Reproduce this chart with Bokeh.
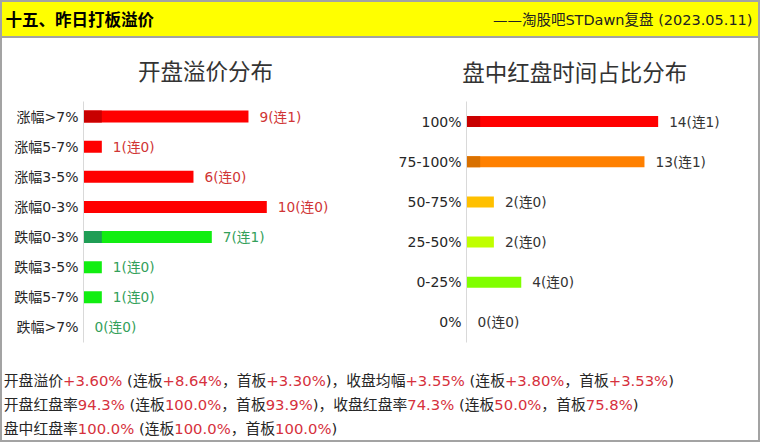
from bokeh.plotting import figure
from bokeh.models import FactorRange, Range1d, ColumnDataSource, Spacer
from bokeh.layouts import column, row
from bokeh.embed import file_html
from bokeh.resources import INLINE
from bokeh.core.properties import value

# ---------------- data ----------------
header_title = "十五、昨日打板溢价"
header_source = "——淘股吧STDawn复盘 (2023.05.11)"

open_title = "开盘溢价分布"
open_cats = ["涨幅>7%", "涨幅5-7%", "涨幅3-5%", "涨幅0-3%",
             "跌幅0-3%", "跌幅3-5%", "跌幅5-7%", "跌幅>7%"]
open_counts = [9, 1, 6, 10, 7, 1, 1, 0]
open_lianban = [1, 0, 0, 0, 1, 0, 0, 0]

red_title = "盘中红盘时间占比分布"
red_cats = ["100%", "75-100%", "50-75%", "25-50%", "0-25%", "0%"]
red_counts = [14, 13, 2, 2, 4, 0]
red_lianban = [1, 1, 0, 0, 0, 0]

open_premium = ["+3.60%", "+8.64%", "+3.30%"]
close_avg = ["+3.55%", "+3.80%", "+3.53%"]
open_red_rate = ["94.3%", "100.0%", "93.9%"]
close_red_rate = ["74.3%", "50.0%", "75.8%"]
intraday_red_rate = ["100.0%", "100.0%", "100.0%"]

# ---------------- styles ----------------
FONT = "DejaVu Sans, Noto Sans CJK SC"
W = 760
BORDER = 2
IW = W - 2 * BORDER            # inner width
HEAD_H, TITLE_H, CHART_H, FOOT_H = 38, 52, 270, 80
LW = RW = IW // 2
GREY = "#a3a3a3"
FRAME_TOP, FRAME_H = 11, 241

open_colors = ["#ff0000"] * 4 + ["#11ee11"] * 4
open_dark = ["#c80000"] * 4 + ["#1f9d55"] * 4
open_label_colors = ["#d03535"] * 4 + ["#33a05a"] * 4
red_colors = ["#ff0000", "#ff8000", "#ffc000", "#c0ff00", "#80ff00", "#80ff00"]
red_dark = ["#c80000", "#d87000", "#ffc000", "#c0ff00", "#80ff00", "#80ff00"]
red_label_colors = ["#333333"] * 6

BLACK, RED = "#262626", "#d6313d"

EM = {str(d): 0.636 for d in range(10)}
EM.update({".": 0.318, "%": 0.950, "+": 0.838, " ": 0.318, "(": 0.390,
           ")": 0.390, "-": 0.361, ">": 0.838})


def text_width(s, size):
    w = 0.0
    for ch in s:
        if ch in EM:
            w += EM[ch]
        elif ord(ch) > 0x2000:
            w += 1.0
        else:
            w += 0.6
    return w * size


def plain_fig(width, height, x0, y0, **kw):
    p = figure(width=width, height=height, x_range=Range1d(x0, x0 + width),
               y_range=Range1d(y0 + height, y0), x_axis_location=None,
               y_axis_location=None, toolbar_location=None, min_border=0,
               output_backend="svg", **kw)
    p.grid.visible = False
    return p


# ---------------- header ----------------
head = plain_fig(W, HEAD_H, 0, 0, background_fill_color="#ffff00",
                 border_fill_color="#ffff00", outline_line_color=GREY,
                 outline_line_width=3)
head.text(x=[5], y=[19.5], text=[header_title], text_baseline="middle",
          text_align="left", text_font=value(FONT), text_font_size="16.5px",
          text_font_style="bold", text_color="#000000")
head.text(x=[752], y=[19.5], text=[header_source], text_baseline="middle",
          text_align="right", text_font=value(FONT), text_font_size="14.5px",
          text_color="#222222")

# ---------------- chart titles ----------------
titles = plain_fig(IW, TITLE_H, BORDER, HEAD_H, outline_line_color=None)
titles.text(x=[205, 574.3], y=[71.5, 72.0], text=[open_title, red_title],
            text_baseline="middle", text_align="center", text_font=value(FONT),
            text_font_size="22.5px", text_color="#333333")


# ---------------- bar charts ----------------
def bar_chart(cats, counts, lian, colors, dark, lcolors, width, bl, unit_px, bar_h):
    br = 12
    fw = width - bl - br
    src = ColumnDataSource(dict(cat=cats, n=counts, l=lian, color=colors, dark=dark,
                                lc=lcolors,
                                label=[f"{n}(连{k})" for n, k in zip(counts, lian)]))
    p = figure(width=width, height=CHART_H, y_range=FactorRange(factors=cats[::-1]),
               x_range=Range1d(0, fw / unit_px), x_axis_location=None,
               toolbar_location=None, output_backend="svg", min_border_left=bl,
               min_border_right=br, min_border_top=FRAME_TOP,
               min_border_bottom=CHART_H - FRAME_TOP - FRAME_H, outline_line_color=None)
    p.grid.visible = False
    p.hbar(y="cat", right="n", height=bar_h, fill_color="color", line_color=None,
           source=src)
    p.hbar(y="cat", right="l", height=bar_h, fill_color="dark", line_color=None,
           source=src)
    p.text(x="n", y="cat", text="label", x_offset=11, text_baseline="middle",
           text_align="left", text_color="lc", text_font=value(FONT),
           text_font_size="13.7px", source=src)
    ax = p.yaxis[0]
    ax.axis_line_color = "#d9d9d9"
    ax.major_tick_line_color = None
    ax.minor_tick_line_color = None
    ax.major_tick_out = 0
    ax.major_tick_in = 0
    ax.major_label_standoff = 5
    ax.major_label_text_font = FONT
    ax.major_label_text_font_size = "14px"
    ax.major_label_text_color = "#262626"
    return p


left = bar_chart(open_cats, open_counts, open_lianban, open_colors, open_dark,
                 open_label_colors, LW, 81, 18.33, 0.4)
right = bar_chart(red_cats, red_counts, red_lianban, red_colors, red_dark,
                  red_label_colors, RW, 86, 13.69, 0.275)

# ---------------- footer ----------------
K, R = BLACK, RED
lines = [
    [("开盘溢价", K), (open_premium[0], R), (" (连板", K), (open_premium[1], R),
     ("，首板", K), (open_premium[2], R), (")，收盘均幅", K), (close_avg[0], R),
     (" (连板", K), (close_avg[1], R), ("，首板", K), (close_avg[2], R), (")", K)],
    [("开盘红盘率", K), (open_red_rate[0], R), (" (连板", K), (open_red_rate[1], R),
     ("，首板", K), (open_red_rate[2], R), (")，收盘红盘率", K), (close_red_rate[0], R),
     (" (连板", K), (close_red_rate[1], R), ("，首板", K), (close_red_rate[2], R),
     (")", K)],
    [("盘中红盘率", K), (intraday_red_rate[0], R), (" (连板", K),
     (intraday_red_rate[1], R), ("，首板", K), (intraday_red_rate[2], R), (")", K)],
]
FOOT_Y0 = HEAD_H + TITLE_H + CHART_H
line_y = [379.5, 404, 427.5]
FS = 14.8
xs, ys, ts, cs = [], [], [], []
for segs, yy in zip(lines, line_y):
    x = 3.3
    for t, c in segs:
        stripped = t.lstrip(" ")
        x += text_width(t[:len(t) - len(stripped)], FS)
        xs.append(x)
        ys.append(yy)
        ts.append(stripped)
        cs.append(c)
        x += text_width(stripped, FS)

foot = plain_fig(IW, FOOT_H, BORDER, FOOT_Y0, outline_line_color=None)
foot.text(x=xs, y=ys, text=ts, text_color=cs, text_baseline="middle", text_align="left",
          text_font=value(FONT), text_font_size=f"{FS}px")

body_h = TITLE_H + CHART_H + FOOT_H
body = row(Spacer(width=BORDER, height=body_h, styles={"background-color": GREY}),
           column(titles, row(left, right), foot),
           Spacer(width=BORDER, height=body_h, styles={"background-color": GREY}))
layout = column(head, body,
                Spacer(width=W, height=BORDER, styles={"background-color": GREY}))
open("out.html", "w").write(file_html(layout, INLINE))
